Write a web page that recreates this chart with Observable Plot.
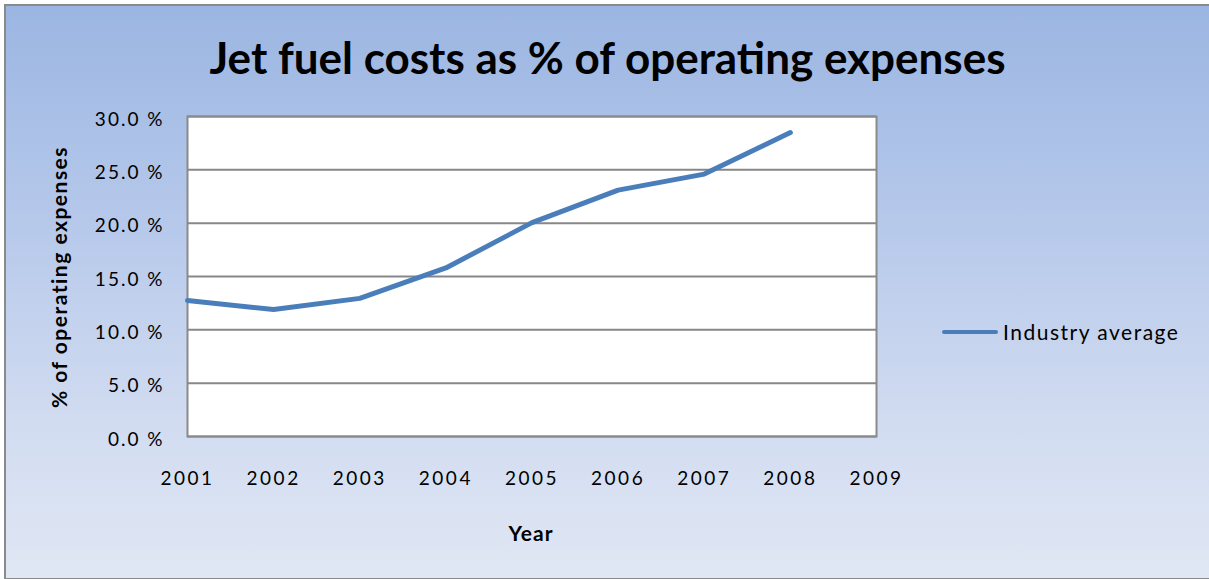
<!DOCTYPE html>
<html>
<head>
<meta charset="utf-8">
<script src="https://cdn.jsdelivr.net/npm/d3@7"></script>
<script src="https://cdn.jsdelivr.net/npm/@observablehq/plot@0.6"></script>
<style>
  html, body { margin: 0; padding: 0; background: #fff; }
  #chart {
    position: absolute; left: 4px; top: 4px; width: 1210px; height: 572px;
    border-left: 2px solid #8a8a8a; border-top: 2px solid #8a8a8a; border-bottom: 2px solid #8a8a8a;
    background: linear-gradient(180deg, #9bb6e2 0%, #b4c7ea 35%, #d3ddf1 75%, #e0e7f4 100%);
    font-family: Lato, "Open Sans", sans-serif; color: #000;
    overflow: hidden;
  }
  #title {
    position: absolute; left: 0; width: 1203px; top: 25px; text-align: center;
    font-weight: bold; font-size: 44px; white-space: nowrap;
  }
  #plot { position: absolute; left: -6px; top: -6px; }
  #plot [aria-label="y-axis tick label"] { letter-spacing: 2px; }
  #plot [aria-label="x-axis tick label"] { letter-spacing: 2.5px; }
  #ylabel {
    position: absolute; left: 52px; top: 271px; transform: translate(-50%, -50%) rotate(-90deg);
    font-weight: bold; font-size: 21px; letter-spacing: 1.5px; white-space: nowrap;
  }
  #xlabel {
    position: absolute; left: 525px; top: 514px; transform: translateX(-50%);
    font-weight: bold; font-size: 21px; letter-spacing: 1px;
  }
  #legend {
    position: absolute; left: 936px; top: 313px; font-size: 21px; letter-spacing: 1.5px; display: flex; align-items: center; white-space: nowrap;
  }
  #legend .sw { width: 56px; height: 4px; background: #4a7ebb; border-radius: 2px; margin-right: 5px; }
</style>
</head>
<body>
<div id="chart">
  <div id="title">Jet fuel costs as % of operating expenses</div>
  <div id="plot"></div>
  <div id="ylabel">% of operating expenses</div>
  <div id="xlabel">Year</div>
  <div id="legend"><span class="sw"></span><span id="legtext">Industry average</span></div>
</div>
<script>
const years = [2001, 2002, 2003, 2004, 2005, 2006, 2007, 2008];
const industryAverage = [12.75, 11.9, 12.95, 15.8, 20.05, 23.1, 24.6, 28.5];
const xTicks = [2001, 2002, 2003, 2004, 2005, 2006, 2007, 2008, 2009];
const yTicks = [0, 5, 10, 15, 20, 25, 30];
const seriesName = "Industry average";

const data = years.map((y, i) => ({year: y, value: industryAverage[i], series: seriesName}));

const chart = Plot.plot({
  width: 1209,
  height: 579,
  marginLeft: 187,
  marginRight: 333,
  marginTop: 116,
  marginBottom: 143,
  style: {background: "transparent", fontFamily: "Lato, 'Open Sans', sans-serif", fontSize: "19px", color: "#000"},
  x: {domain: [2001, 2009], ticks: xTicks, tickFormat: d => String(d), label: null},
  y: {domain: [0, 30], ticks: yTicks, tickFormat: d => d.toFixed(1) + " %", label: null},
  marks: [
    Plot.frame({fill: "white"}),
    Plot.gridY(yTicks, {stroke: "#878787", strokeOpacity: 1, strokeWidth: 2}),
    Plot.frame({stroke: "#8a8a8a", strokeWidth: 2}),
    Plot.axisY({ticks: yTicks, tickSize: 0, tickPadding: 23, dy: 3, tickFormat: d => d.toFixed(1) + " %", fontSize: 19}),
    Plot.axisX({ticks: xTicks, tickSize: 0, tickPadding: 35, tickFormat: d => String(d), fontSize: 19}),
    Plot.line(data, {x: "year", y: "value", stroke: "#4a7ebb", strokeWidth: 5, strokeLinecap: "round", strokeLinejoin: "round"})
  ]
});
document.getElementById("plot").appendChild(chart);
</script>
</body>
</html>
